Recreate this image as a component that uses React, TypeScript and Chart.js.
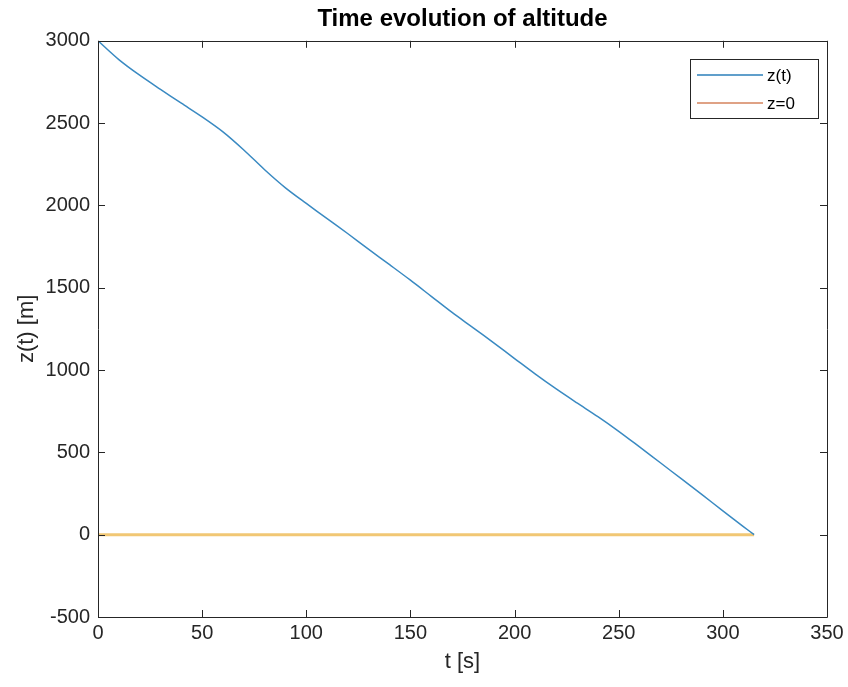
import React, { useEffect, useRef } from "react";
import { Chart, registerables } from "chart.js";

Chart.register(...registerables);

// ---- data ----
const timeS = [0, 10, 20, 30, 40, 50, 60, 70, 80, 90, 100, 110, 120, 130, 140, 150, 160, 170, 180, 190, 200, 210, 220, 230, 240, 250, 260, 270, 280, 290, 300, 310, 315];
const altitudeM = [3000, 2886, 2791, 2705, 2621, 2538, 2447, 2337, 2217, 2107, 2012, 1920, 1828, 1733, 1640, 1546, 1448, 1350, 1258, 1165, 1070, 975, 885, 800, 717, 628, 533, 437, 340, 243, 145, 48, 0];
const groundT = [0, 315];
const groundZ = [0, 0];
const xTickValues = [0, 50, 100, 150, 200, 250, 300, 350];
const yTickValues = [-500, 0, 500, 1000, 1500, 2000, 2500, 3000];
const seriesLabels = ["z(t)", "z=0"];
const titleText = "Time evolution of altitude";
const xLabel = "t [s]";
const yLabel = "z(t) [m]";

const FONT = "'Liberation Sans', Arial, Helvetica, sans-serif";
const AXIS_COLOR = "#262626";
const legendColors = ["#2B7FBA", "#D4835C"];

const boxTicksPlugin = {
  id: "boxTicks",
  afterDraw(chart: any) {
    const { ctx, chartArea } = chart;
    const { left, right, top, bottom } = chartArea;
    const xs = chart.scales.x;
    const ys = chart.scales.y;
    const tl = 7;
    ctx.save();
    ctx.strokeStyle = AXIS_COLOR;
    ctx.lineWidth = 1;
    ctx.beginPath();
    ctx.rect(Math.round(left) + 0.5, Math.round(top) + 0.5, Math.round(right - left), Math.round(bottom - top));
    ctx.stroke();
    ctx.beginPath();
    xTickValues.forEach((v) => {
      const px = Math.round(xs.getPixelForValue(v)) + 0.5;
      ctx.moveTo(px, bottom);
      ctx.lineTo(px, bottom - tl);
      ctx.moveTo(px, top);
      ctx.lineTo(px, top + tl);
    });
    yTickValues.forEach((v) => {
      const py = Math.round(ys.getPixelForValue(v)) + 0.5;
      ctx.moveTo(left, py);
      ctx.lineTo(left + tl, py);
      ctx.moveTo(right, py);
      ctx.lineTo(right - tl, py);
    });
    ctx.stroke();

    // legend
    const lx = 690, ly = 59, lw = 128, lh = 59;
    ctx.fillStyle = "#ffffff";
    ctx.fillRect(lx, ly, lw, lh);
    ctx.strokeStyle = AXIS_COLOR;
    ctx.strokeRect(lx + 0.5, ly + 0.5, lw, lh);
    const rows = [75, 103];
    seriesLabels.forEach((lab, i) => {
      const y = rows[i];
      ctx.strokeStyle = legendColors[i];
      ctx.lineWidth = 1.5;
      ctx.beginPath();
      ctx.moveTo(697, y);
      ctx.lineTo(763, y);
      ctx.stroke();
      ctx.fillStyle = "#000000";
      ctx.font = `17px ${FONT}`;
      ctx.textAlign = "left";
      ctx.textBaseline = "middle";
      ctx.fillText(lab, 767, y + 1);
    });
    ctx.restore();
  },
};

export default function App() {
  const ref = useRef<HTMLCanvasElement | null>(null);
  useEffect(() => {
    document.body.style.margin = "0";
    if (!ref.current) return;
    const chart = new Chart(ref.current, {
      type: "line",
      data: {
        datasets: [
          {
            label: seriesLabels[0],
            data: timeS.map((t, i) => ({ x: t, y: altitudeM[i] })),
            borderColor: "#3A8AC2",
            borderWidth: 1.5,
            pointRadius: 0,
            tension: 0.3,
            order: 1,
          },
          {
            label: seriesLabels[1],
            data: groundT.map((t, i) => ({ x: t, y: groundZ[i] })),
            borderColor: "#F1C774",
            borderWidth: 3,
            pointRadius: 0,
            order: 2,
          },
        ],
      },
      options: {
        responsive: false,
        animation: false,
        layout: { padding: { left: 0, right: 21, top: 0, bottom: 0 } },
        plugins: {
          legend: { display: false },
          tooltip: { enabled: false },
          title: {
            display: true,
            text: titleText,
            fullSize: false,
            color: "#000000",
            font: { family: FONT, size: 24, weight: "bold" },
            padding: { top: 5, bottom: 7 },
          },
        },
        scales: {
          x: {
            type: "linear",
            min: 0,
            max: 350,
            afterBuildTicks: (s: any) => {
              s.ticks = xTickValues.map((v) => ({ value: v }));
            },
            afterFit: (s: any) => {
              s.height = 70;
            },
            grid: { display: false, drawTicks: false },
            border: { display: false },
            ticks: {
              color: AXIS_COLOR,
              font: { family: FONT, size: 20 },
              padding: 4,
              maxRotation: 0,
              callback: (v: any) => String(v),
            },
            title: {
              display: true,
              text: xLabel,
              color: AXIS_COLOR,
              font: { family: FONT, size: 22 },
              padding: { top: 0, bottom: 12 },
            },
          },
          y: {
            type: "linear",
            min: -500,
            max: 3000,
            afterBuildTicks: (s: any) => {
              s.ticks = yTickValues.map((v) => ({ value: v }));
            },
            afterFit: (s: any) => {
              s.width = 98;
            },
            grid: { display: false, drawTicks: false },
            border: { display: false },
            ticks: {
              color: AXIS_COLOR,
              font: { family: FONT, size: 20 },
              padding: 8,
              callback: (v: any) => String(v),
            },
            title: {
              display: true,
              text: yLabel,
              color: AXIS_COLOR,
              font: { family: FONT, size: 22 },
              padding: { top: 14, bottom: 0 },
            },
          },
        },
      },
      plugins: [boxTicksPlugin],
    });
    return () => chart.destroy();
  }, []);
  return (
    <div style={{ position: "fixed", left: 0, top: 0, width: 848, height: 687, background: "#fff" }}>
      <canvas ref={ref} width={848} height={687} style={{ width: 848, height: 687 }} />
    </div>
  );
}
